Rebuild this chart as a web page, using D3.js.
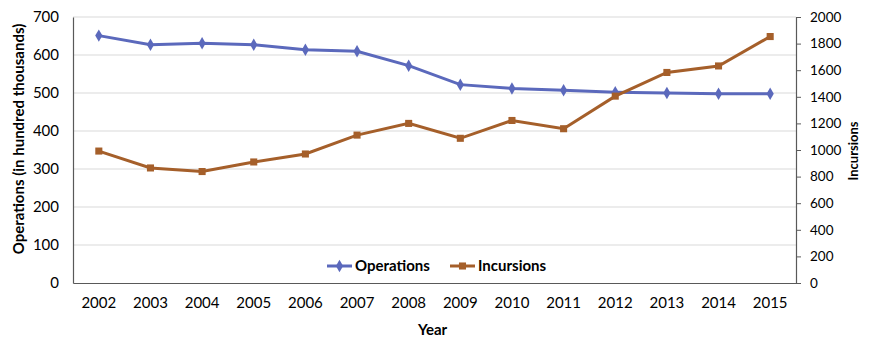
<!DOCTYPE html>
<html><head><meta charset="utf-8">
<script src="https://cdn.jsdelivr.net/npm/d3@7/dist/d3.min.js"></script>
<style>body{margin:0;background:#fff}svg{display:block}text{font-family:Lato,"Open Sans",sans-serif}</style>
</head><body>
<svg id="c" width="871" height="349"></svg>
<script>
const years = ["2002","2003","2004","2005","2006","2007","2008","2009","2010","2011","2012","2013","2014","2015"];
const operations = [651, 627, 631, 627, 614, 610, 572, 522, 512, 507, 502, 500, 498, 498];
const incursions = [992, 865, 838, 910, 970, 1112, 1200, 1088, 1222, 1160, 1405, 1583, 1632, 1853];
const leftTicks = [0,100,200,300,400,500,600,700];
const rightTicks = [0,200,400,600,800,1000,1200,1400,1600,1800,2000];

const svg = d3.select("#c");
const L = 73, R = 796, T = 17, B = 283;
const x = d3.scaleBand().domain(years).range([L, R]);
const yL = d3.scaleLinear().domain([0,700]).range([B, T]);
const yR = d3.scaleLinear().domain([0,2000]).range([B, T]);
const cx = d => x(d) + x.bandwidth()/2;

svg.append("g").selectAll("line").data(leftTicks.filter(d=>d>0)).join("line")
  .attr("x1", L).attr("x2", R).attr("y1", d=>yL(d)).attr("y2", d=>yL(d))
  .attr("stroke", "#d9d9d9").attr("stroke-width", 1.2);

const gl = svg.append("g").attr("transform", `translate(${L},0)`)
  .call(d3.axisLeft(yL).tickValues(leftTicks).tickSize(0).tickPadding(14));
gl.select(".domain").attr("stroke", "#595959").attr("stroke-width", 1.2);
gl.selectAll("text").attr("font-size", 15).attr("fill", "#000");

const gr = svg.append("g").attr("transform", `translate(${R},0)`)
  .call(d3.axisRight(yR).tickValues(rightTicks).tickFormat(d3.format("d")).tickSize(5).tickSizeOuter(0).tickPadding(9));
gr.select(".domain").attr("stroke", "#595959").attr("stroke-width", 1.2);
gr.selectAll(".tick line").attr("stroke", "#595959");
gr.selectAll("text").attr("font-size", 13.5).attr("fill", "#000");

const gb = svg.append("g").attr("transform", `translate(0,${B})`)
  .call(d3.axisBottom(x).tickSize(0).tickPadding(14));
gb.select(".domain").attr("stroke", "#595959").attr("stroke-width", 1.2);
gb.selectAll("text").attr("font-size", 15).attr("fill", "#000");

const cOps = "#5B69BC", cInc = "#A55F2A";
const lineL = d3.line().x((d,i)=>cx(years[i])).y(d=>yL(d));
const lineR = d3.line().x((d,i)=>cx(years[i])).y(d=>yR(d));
svg.append("path").attr("d", lineL(operations)).attr("fill","none").attr("stroke",cOps).attr("stroke-width",3);
svg.append("path").attr("d", lineR(incursions)).attr("fill","none").attr("stroke",cInc).attr("stroke-width",3);

const diamond = d3.symbol().type(d3.symbolDiamond).size(45);
const square = d3.symbol().type(d3.symbolSquare).size(50);
svg.append("g").selectAll("path").data(operations).join("path")
  .attr("d", diamond).attr("transform",(d,i)=>`translate(${cx(years[i])},${yL(d)})`).attr("fill",cOps);
svg.append("g").selectAll("path").data(incursions).join("path")
  .attr("d", square).attr("transform",(d,i)=>`translate(${cx(years[i])},${yR(d)})`).attr("fill",cInc);

const legend = [{name:"Operations", c:cOps, s:diamond, x:327},{name:"Incursions", c:cInc, s:square, x:450}];
const lg = svg.append("g");
legend.forEach(d=>{
  lg.append("line").attr("x1",d.x).attr("x2",d.x+25).attr("y1",266).attr("y2",266).attr("stroke",d.c).attr("stroke-width",3);
  lg.append("path").attr("d",d.s).attr("transform",`translate(${d.x+12.5},266)`).attr("fill",d.c);
  lg.append("text").attr("x",d.x+28).attr("y",266).attr("dy","0.35em").attr("font-size",15).attr("font-weight","bold").text(d.name);
});

svg.append("text").attr("x", (L+R)/2 - 2).attr("y", 330).attr("dy","0.35em").attr("text-anchor","middle")
  .attr("font-size",15).attr("font-weight","bold").text("Year");
svg.append("text").attr("transform",`translate(19,139) rotate(-90)`).attr("dy","0.35em").attr("text-anchor","middle")
  .attr("font-size",15).attr("font-weight","bold").text("Operations (in hundred thousands)");
svg.append("text").attr("transform",`translate(853,151) rotate(-90)`).attr("dy","0.35em").attr("text-anchor","middle")
  .attr("font-size",13).attr("font-weight","bold").text("Incursions");
</script>
</body></html>
